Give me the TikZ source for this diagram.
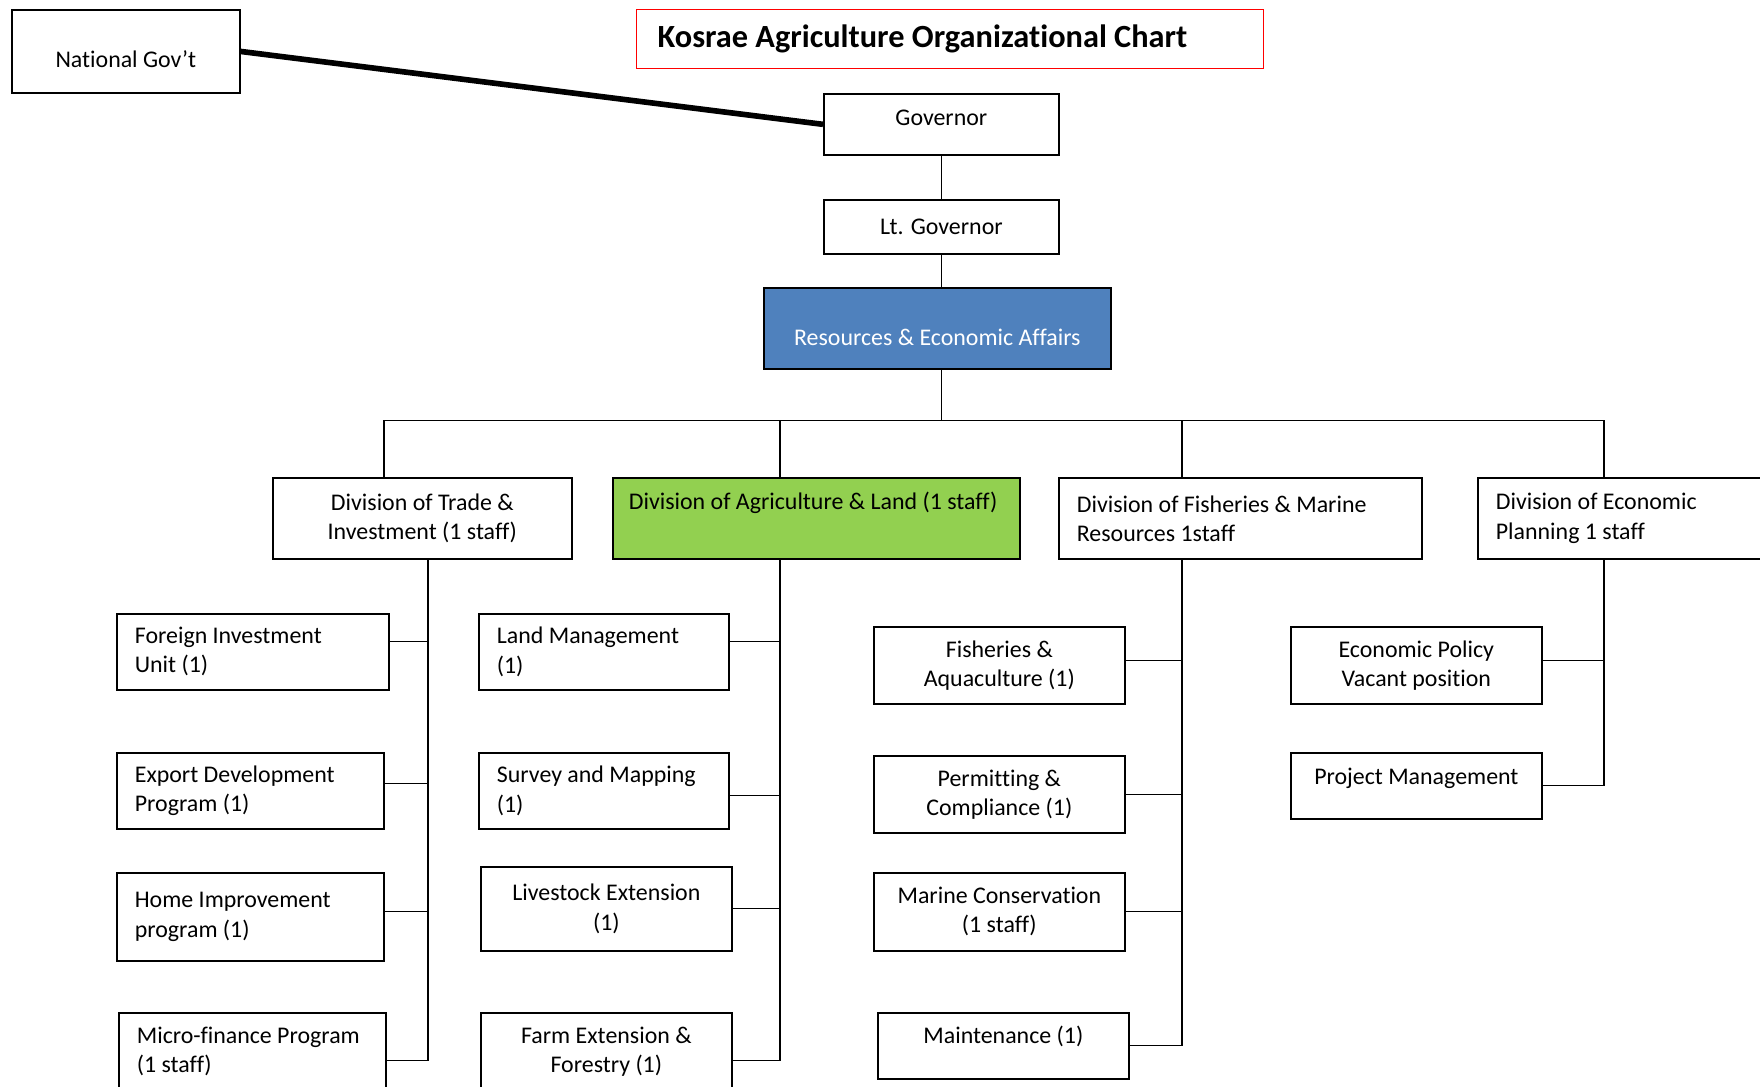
\documentclass[tikz,border=0pt]{standalone}
\usepackage{fontspec}
\setmainfont{Carlito}[Ligatures=NoCommon]
\usetikzlibrary{calc,positioning}
\definecolor{resblue}{HTML}{4F81BD}
\definecolor{agrigreen}{HTML}{92D050}
\tikzset{
	%Define style for boxes
	unit/.style={
		rectangle,
		draw=black, line width=1.2pt,
		inner xsep=4.5mm, inner ysep=0pt,
		font=\fontsize{17}{20.7}\selectfont,
		anchor=north west,
		align=flush center},
	leftunit/.style={
		unit,
		align=flush left},
	% Define line style
	link/.style={
		line width=0.9pt}
}
\begin{document}
\begin{tikzpicture}[x=0.25mm, y=-0.25mm]
	\clip (0,0) rectangle (1760,1087);
	\fill[white] (0,0) rectangle (1760,1087);
	% node National Gov't
	\node[unit, minimum width=57mm, text height=14.4mm, text depth=6.4mm] (natgov) at (11,9) {National Gov’t};
	% node title
	\node[leftunit, draw=red, line width=1pt, inner xsep=5.25mm, text width=146.25mm, minimum height=14.75mm, font=\fontsize{23}{27}\selectfont\bfseries] (title) at (636,9) {Kosrae Agriculture Organizational Chart};
	% node Governor
	\node[unit, minimum width=58.75mm, text height=8mm, text depth=7.25mm] (gov) at (823,93) {Governor};
	% node Lt. Governor
	\node[unit, minimum width=58.75mm, minimum height=13.5mm] (ltgov) at (823,199) {Lt. Governor};
	% node Resources & Economic Affairs
	\node[unit, fill=resblue, text=white, minimum width=86.75mm, text height=14.5mm, text depth=5.75mm] (res) at (763,287) {Resources \& Economic Affairs};
	% node divisions
	\node[unit, text width=65.75mm, minimum height=20.25mm] (trade) at (272,477) {Division of Trade \&\\Investment (1 staff)};
	\node[leftunit, fill=agrigreen, inner xsep=4mm, text width=93.75mm, text height=8mm, text depth=12.25mm] (agri) at (612,477) {Division of Agriculture \& Land (1 staff)};
	\node[leftunit, text width=81.75mm, minimum height=20.25mm] (fish) at (1058,477) {Division of Fisheries \& Marine\\Resources 1staff};
	\node[leftunit, text width=71mm, minimum height=20.25mm] (econ) at (1477,477) {Division of Economic\\Planning 1 staff};
	% node trade units
	\node[leftunit, text width=59mm, minimum height=19mm] (fiu) at (116,613) {Foreign Investment\\Unit (1)};
	\node[leftunit, text width=57.75mm, minimum height=19mm] (edp) at (116,752) {Export Development\\Program (1)};
	\node[leftunit, text width=57.75mm, minimum height=22mm] (hip) at (116,872) {Home Improvement\\program (1)};
	\node[leftunit, text width=57.75mm, text height=7.75mm, text depth=16.25mm] (mfp) at (118,1012) {Micro-finance Program\\(1 staff)};
	% node agriculture units
	\node[leftunit, text width=53.5mm, minimum height=19mm] (lm) at (478,613) {Land Management\\(1)};
	\node[leftunit, text width=53.5mm, minimum height=19mm] (sm) at (478,752) {Survey and Mapping\\(1)};
	\node[unit, text width=53.75mm, minimum height=21mm] (le) at (480,866) {Livestock Extension\\(1)};
	\node[unit, text width=53.75mm, text height=7.75mm, text depth=16.25mm] (fef) at (480,1012) {Farm Extension \&\\Forestry (1)};
	% node fisheries units
	\node[unit, text width=53.75mm, minimum height=19.25mm] (fa) at (873,626) {Fisheries \&\\Aquaculture (1)};
	\node[unit, text width=53.75mm, minimum height=19.25mm] (pc) at (873,755) {Permitting \&\\Compliance (1)};
	\node[unit, text width=53.75mm, minimum height=19.5mm] (mc) at (873,872) {Marine Conservation\\(1 staff)};
	\node[unit, text width=53.75mm, text height=7.75mm, text depth=8.75mm] (mt) at (877,1012) {Maintenance (1)};
	% node planning units
	\node[unit, text width=53.75mm, minimum height=19.25mm] (ep) at (1290,626) {Economic Policy\\Vacant position};
	\node[unit, text width=53.75mm, text height=8mm, text depth=8.5mm] (pm) at (1290,752) {Project Management};
	% top links
	\draw[line width=4pt] (natgov.east) -- (gov.west);
	\draw[link] (gov.south) -- (ltgov.north);
	\draw[link] (ltgov.south) -- (ltgov.south |- res.north);
	\coordinate (bus) at ($(ltgov.south |- res.south)+(0,51)$);
	\draw[link] (ltgov.south |- res.south) -- (bus);
	\draw[link] ($(trade.north west)+(112,0)$) |- (bus);
	\draw[link] ($(agri.north west)+(168,0)$) |- (bus);
	\draw[link] ($(fish.north west)+(124,0)$) |- (bus);
	\draw[link] ($(econ.north west)+(127,0)$) |- (bus);
	% trade links
	\coordinate (tstem) at ($(trade.south west)+(156,0)$);
	\draw[link] (tstem) |- (mfp.east);
	\draw[link] ([yshift=2.5mm]fiu.east) -| (tstem);
	\draw[link] ([yshift=1.75mm]edp.east) -| (tstem);
	\draw[link] ([yshift=1.25mm]hip.east) -| (tstem);
	% agriculture links
	\coordinate (astem) at ($(agri.south west)+(168,0)$);
	\draw[link] (astem) |- (fef.east);
	\draw[link] ([yshift=2.5mm]lm.east) -| (astem);
	\draw[link] ([yshift=-1.25mm]sm.east) -| (astem);
	\draw[link] (le.east) -| (astem);
	% fisheries links
	\coordinate (fstem) at ($(fish.south west)+(124,0)$);
	\draw[link] (fstem) |- (mt.east);
	\draw[link] ([yshift=1.25mm]fa.east) -| (fstem);
	\draw[link] (pc.east) -| (fstem);
	\draw[link] (mc.east) -| (fstem);
	% planning links
	\coordinate (estem) at ($(econ.south west)+(127,0)$);
	\draw[link] (estem) |- (pm.east);
	\draw[link] ([yshift=1.25mm]ep.east) -| (estem);
\end{tikzpicture}
\end{document}
